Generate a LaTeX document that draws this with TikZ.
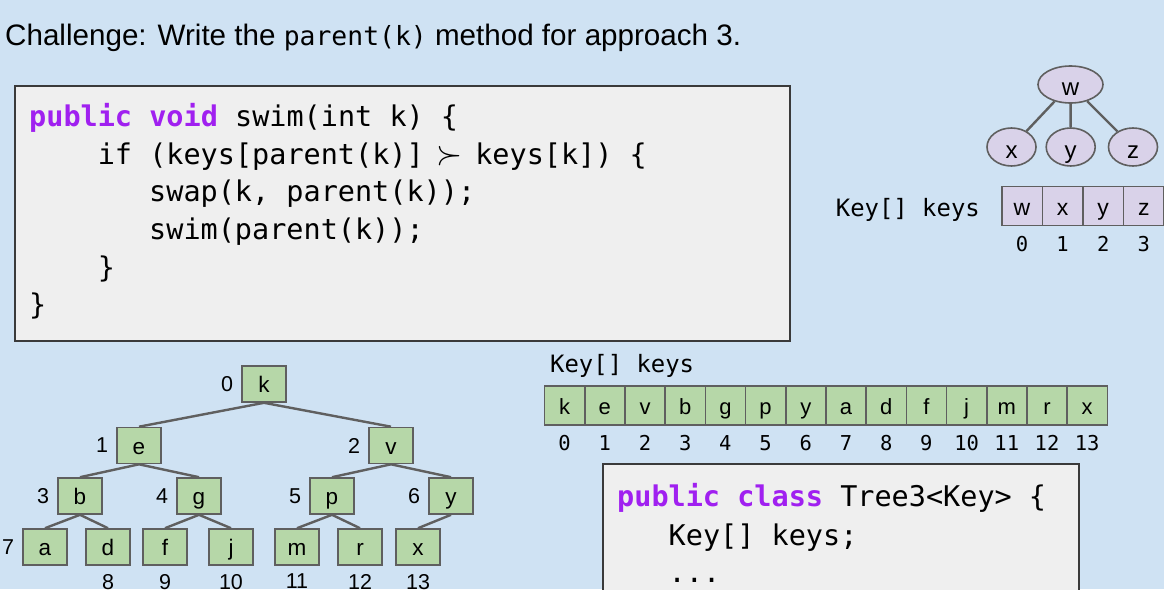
\documentclass[tikz,border=0pt]{standalone}
\usepackage{fontspec}
\setmainfont{Liberation Sans}
\setmonofont{DejaVu Sans Mono}
\usetikzlibrary{shapes.geometric}

\definecolor{slideblue}{HTML}{CFE2F3}
\definecolor{codegray}{HTML}{EFEFEF}
\definecolor{boxline}{HTML}{3A3A3A}
\definecolor{treeline}{HTML}{5F5F5F}
\definecolor{keygreen}{HTML}{B6D7A8}
\definecolor{keylilac}{HTML}{D9D2E9}
\definecolor{kwpurple}{HTML}{A020F0}

\newcommand{\kw}[1]{\textcolor{kwpurple}{\bfseries #1}}

\begin{document}
\begin{tikzpicture}[x=1pt,y=-1pt,
	codebox/.style={draw=boxline,line width=1.5pt,fill=codegray,inner sep=0pt},
	codeline/.style={anchor=base west,inner sep=0pt,font=\ttfamily\fontsize{28.5}{34}\selectfont},
	heapbox/.style={shape=rectangle,draw=treeline,line width=1.6pt,fill=keygreen,minimum width=44pt,minimum height=36pt,inner sep=0pt,text height=17pt,text depth=0pt,font=\fontsize{22.5}{22.5}\selectfont},
	heapnum/.style={inner sep=0pt,font=\fontsize{21.5}{21.5}\selectfont},
	leftnum/.style={label={[heapnum,label distance=8pt]left:#1}},
	belownum/.style={label={[heapnum,label distance=8pt]below:#1}},
	heapedge/.style={draw=treeline,line width=2.4pt},
	greencell/.style={shape=rectangle,draw=treeline,line width=1.6pt,fill=keygreen,minimum width=40.2pt,minimum height=38.5pt,inner sep=0pt,text height=17pt,text depth=0pt,font=\fontsize{22}{22}\selectfont},
	lilacnode/.style={shape=ellipse,draw=treeline,line width=1.6pt,fill=keylilac,minimum width=49pt,minimum height=38pt,inner sep=0pt,text height=22pt,text depth=0pt,font=\fontsize{24}{24}\selectfont},
	lilaccell/.style={shape=rectangle,draw=treeline,line width=1.6pt,fill=keylilac,minimum width=40.6pt,minimum height=39pt,inner sep=0pt,text height=18pt,text depth=0pt,font=\fontsize{23}{23}\selectfont},
	idxnum/.style={inner sep=0pt,font=\ttfamily\fontsize{20.5}{20.5}\selectfont},
	arrlabel/.style={inner sep=0pt,font=\ttfamily\fontsize{23.9}{24}\selectfont}
	]
	
	\fill[slideblue] (0,0) rectangle (1164,589);
	\useasboundingbox (0,0) rectangle (1164,589);
	
	\node[anchor=base west,inner sep=0pt,font=\fontsize{29.6}{34}\selectfont] (title) at (5,45) {Challenge: Write the {\ttfamily\fontsize{26.4}{30}\selectfont parent(k)} method for approach 3.};
	
	\node[codebox,minimum width=775pt,minimum height=255pt] (swimbox) at (402.5,213.5) {};
	\node[codeline] (s1) at (29,126) {\kw{public} \kw{void} swim(int k) \{};
	\node[codeline] (s2) at (97.6,164) {if (keys[parent(k)] \makebox[17.16pt]{\scalebox{1.35}{$\succ$}} keys[k]) \{};
	\node[codeline] (s3) at (149,201) {swap(k, parent(k));};
	\node[codeline] (s4) at (149,239) {swim(parent(k));};
	\node[codeline] (s5) at (97.6,277) {\}};
	\node[codeline] (s6) at (29,314) {\}};
	
	\node[codebox,minimum width=476pt,minimum height=150pt] (classbox) at (841,539) {};
	\node[codeline] (t1) at (617,506) {\kw{public} \kw{class} Tree3<Key> \{};
	\node[codeline] (t2) at (668.5,545) {Key[] keys;};
	\node[codeline] (t3) at (668.5,582) {...};
	
	\node[lilacnode,minimum width=65pt,minimum height=37pt] (nw) at (1070.5,84.5) {w};
	\node[lilacnode] (nx) at (1011.5,147) {x};
	\node[lilacnode] (ny) at (1070.7,147) {y};
	\node[lilacnode] (nz) at (1133,147) {z};
	
	\path[heapedge] (nw) edge (nx);
	\path[heapedge] (nw) edge (ny);
	\path[heapedge] (nw) edge (nz);
	
	\node[arrlabel,anchor=east] (smalllbl) at (980,210) {Key[] keys};
	\foreach \ch [count=\i from 0] in {w,x,y,z} {
		\node[lilaccell] (wc\i) at ({1022+40.6*\i},206) {\ch};
		\node[idxnum] (wi\i) at ({1022+40.6*\i},244) {\i};
	}
	
	\node[arrlabel,anchor=west] (biglbl) at (550,366) {Key[] keys};
	\foreach \ch [count=\i from 0] in {k,e,v,b,g,p,y,a,d,f,j,m,r,x} {
		\node[greencell] (kc\i) at ({564.6+40.2*\i},405.5) {\ch};
		\node[idxnum] (ki\i) at ({564.6+40.2*\i},443) {\i};
	}
	
	\node[heapbox,leftnum=0] (nk) at (264,384) {k};
	\node[heapbox,leftnum=1] (ne) at (139,445.5) {e};
	\node[heapbox,leftnum=2] (nv) at (391,445.5) {v};
	\node[heapbox,leftnum=3] (nb) at (80,496) {b};
	\node[heapbox,leftnum=4] (ng) at (199,496) {g};
	\node[heapbox,leftnum=5] (np) at (332,496) {p};
	\node[heapbox,leftnum=6] (ny2) at (451,496) {y};
	\node[heapbox,leftnum=7] (na) at (45,547) {a};
	\node[heapbox,belownum=8] (nd) at (108,547) {d};
	\node[heapbox,belownum=9] (nf) at (165,547) {f};
	\node[heapbox,belownum=10] (nj) at (231,547) {j};
	\node[heapbox,belownum=11] (nm) at (297,547) {m};
	\node[heapbox,belownum=12] (nr) at (360,547) {r};
	\node[heapbox,belownum=13] (nx2) at (418,547) {x};
	
	\path[heapedge] (nk.south) edge (ne.north);
	\path[heapedge] (nk.south) edge (nv.north);
	\path[heapedge] (ne.south) edge (nb.north);
	\path[heapedge] (ne.south) edge (ng.north);
	\path[heapedge] (nv.south) edge (np.north);
	\path[heapedge] (nv.south) edge (ny2.north);
	\path[heapedge] (nb.south) edge (na.north);
	\path[heapedge] (nb.south) edge (nd.north);
	\path[heapedge] (ng.south) edge (nf.north);
	\path[heapedge] (ng.south) edge (nj.north);
	\path[heapedge] (np.south) edge (nm.north);
	\path[heapedge] (np.south) edge (nr.north);
	\path[heapedge] (ny2.south) edge (nx2.north);
	
\end{tikzpicture}
\end{document}
